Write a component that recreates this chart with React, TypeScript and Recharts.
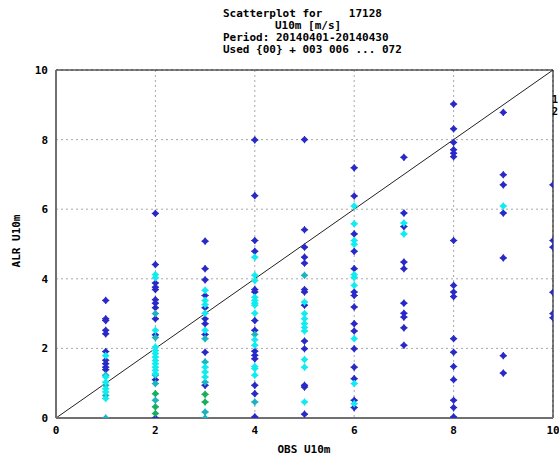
import React from "react";
import {
  ScatterChart,
  Scatter,
  XAxis,
  YAxis,
  CartesianGrid,
  ReferenceLine,
  ReferenceArea,
  Customized,
} from "recharts";

// ---- data (OBS U10m, ALR U10m) grouped by marker colour ----
const darkPoints: [number, number][] = [
  [1, 3.38], [1, 2.85], [1, 2.8], [1, 2.52], [1, 2.42], [1, 1.91], [1, 1.66], [1, 1.56], [1, 1.46], [1, 1.39],
  [2, 5.88], [2, 4.41], [2, 3.88], [2, 3.76], [2, 3.69], [2, 3.4], [2, 3.3], [2, 3.17], [2, 2.85], [2, 2.39], [2, 1.1], [2, 0],
  [3, 5.08], [3, 4.29], [3, 3.97], [3, 3.52], [3, 3.17], [3, 2.85], [3, 2.71], [3, 2.4], [3, 1.89], [3, 0.94],
  [4, 7.99], [4, 6.39], [4, 5.1], [4, 4.79], [4, 3.69], [4, 3.62], [4, 2.8], [4, 2.52], [4, 1.92], [4, 1.8], [4, 1.7], [4, 0.94], [4, 0.7], [4, 0.03],
  [5, 8.0], [5, 5.41], [5, 4.91], [5, 4.62], [5, 4.45], [5, 3.69], [5, 3.62], [5, 3.24], [5, 2.21], [5, 1.99], [5, 0.94], [5, 0.89], [5, 0.11],
  [6, 7.19], [6, 6.38], [6, 5.29], [6, 4.79], [6, 4.29], [6, 3.62], [6, 3.52], [6, 3.19], [6, 2.71], [6, 2.5], [6, 1.99], [6, 1.46], [6, 1.13], [6, 0.51], [6, 0.3],
  [7, 7.49], [7, 5.89], [7, 5.5], [7, 4.48], [7, 4.29], [7, 3.3], [7, 3.01], [7, 2.9], [7, 2.59], [7, 2.09],
  [8, 9.02], [8, 8.31], [8, 7.92], [8, 7.71], [8, 7.61], [8, 7.51], [8, 5.1], [8, 3.81], [8, 3.62], [8, 3.49], [8, 2.28], [8, 1.89], [8, 1.48], [8, 1.1], [8, 0.51], [8, 0.3], [8, 0.03],
  [9, 8.78], [9, 6.99], [9, 6.7], [9, 5.89], [9, 4.6], [9, 1.79], [9, 1.29],
  [10, 6.7], [10, 5.1], [10, 4.91], [10, 3.61], [10, 3.0], [10, 2.88],
];

const cyanPoints: [number, number][] = [
  [1, 1.79], [1, 1.18], [1, 1.03], [1, 0.84], [1, 0.75], [1, 0.56],
  [2, 4.12], [2, 4.03], [2, 2.52], [2, 2.04], [2, 1.94], [2, 1.85], [2, 1.75], [2, 1.65], [2, 1.56], [2, 1.46], [2, 1.37], [2, 1.27],
  [3, 3.67], [3, 3.38], [3, 3.26], [3, 3.01], [3, 2.52], [3, 1.46], [3, 1.32], [3, 1.18],
  [4, 4.62], [4, 4.1], [4, 3.95], [4, 3.47], [4, 3.38], [4, 3.3], [4, 3.24], [4, 3.01], [4, 2.25], [4, 2.09], [4, 1.48], [4, 1.42], [4, 1.23],
  [5, 3.33], [5, 3.0], [5, 2.85], [5, 2.71], [5, 2.6], [5, 2.5], [5, 1.68], [5, 1.46], [5, 0.46],
  [6, 6.09], [6, 5.58], [6, 5.1], [6, 4.99], [6, 4.12], [6, 4.04], [6, 3.81], [6, 2.28], [6, 0.99], [6, 0.41],
  [7, 5.6], [7, 5.29],
  [9, 6.09],
];

const tealPoints: [number, number][] = [
  [1, 1.23], [1, 0.94], [1, 0.65], [1, 0],
  [2, 3.0], [2, 2.31], [2, 1.23], [2, 0.99], [2, 0.51],
  [3, 2.28], [3, 1.61], [3, 1.03], [3, 0.17], [3, 0],
  [4, 2.4], [4, 0.46],
  [5, 4.1],
];

const greenPoints: [number, number][] = [
  [2, 0.7], [2, 0.32], [2, 0.13],
  [3, 0.68], [3, 0.46],
];

const axisTicks = [0, 2, 4, 6, 8, 10];
const titleLines = [
  "Scatterplot for    17128",
  "U10m [m/s]",
  "Period: 20140401-20140430",
  "Used {00} + 003 006 ... 072",
];
const xLabel = "OBS U10m";
const yLabel = "ALR U10m";
const legendKeys = ["1", "2"];

const toRows = (pts: [number, number][]) => pts.map(([x, y]) => ({ x, y }));

const FONT = "'DejaVu Sans Mono', monospace";

const makeShape = (color: string) => (props: any) => {
  const { cx, cy } = props;
  if (cx == null || cy == null) return null;
  const r = 3.6;
  return (
    <g>
      <path
        d={`M${cx},${cy - r}L${cx + r},${cy}L${cx},${cy + r}L${cx - r},${cy}Z`}
        fill={color}
      />
      <path
        d={`M${cx - r},${cy}L${cx + r},${cy}M${cx},${cy - r}L${cx},${cy + r}`}
        stroke={color}
        strokeWidth={1}
      />
    </g>
  );
};

const pre = { whiteSpace: "pre" as const };

const Texts = () => (
  <g fontFamily={FONT} fontWeight="bold" fontSize={11} fill="#000">
    <text x={223} y={17} style={pre} xmlSpace="preserve">{titleLines[0]}</text>
    <text x={275} y={29} style={pre}>{titleLines[1]}</text>
    <text x={223} y={41} style={pre}>{titleLines[2]}</text>
    <text x={223} y={53} style={pre}>{titleLines[3]}</text>
    <text x={304} y={453} textAnchor="middle">{xLabel}</text>
    <text
      x={19.5}
      y={241}
      textAnchor="middle"
      transform="rotate(-90 19.5 241)"
    >
      {yLabel}
    </text>
    <text x={552} y={103} fontSize={10}>{legendKeys[0]}</text>
    <text x={552} y={115} fontSize={10}>{legendKeys[1]}</text>
  </g>
);

const tickStyle = { fontFamily: FONT, fontWeight: "bold", fontSize: 11, fill: "#000" };

export default function App() {
  return (
    <div style={{ position: "absolute", left: 0, top: 0, background: "#fff" }}>
      <ScatterChart
        width={559}
        height={458}
        margin={{ top: 70, right: 6, bottom: 10, left: 0 }}
      >
        <CartesianGrid stroke="#a8a8a8" strokeDasharray="2 3" />
        <XAxis
          type="number"
          dataKey="x"
          domain={[0, 10]}
          ticks={axisTicks}
          allowDataOverflow
          height={30}
          tick={tickStyle}
          tickLine={false}
          axisLine={{ stroke: "#707070", strokeWidth: 2 }}
        />
        <YAxis
          type="number"
          dataKey="y"
          domain={[0, 10]}
          ticks={axisTicks}
          allowDataOverflow
          width={56}
          tick={tickStyle}
          tickLine={false}
          axisLine={{ stroke: "#707070", strokeWidth: 2 }}
        />
        <ReferenceArea
          x1={0}
          x2={10}
          y1={0}
          y2={10}
          fill="none"
          stroke="#000"
          strokeWidth={1}
        />
        <ReferenceLine
          segment={[
            { x: 0, y: 0 },
            { x: 10, y: 10 },
          ]}
          stroke="#222"
          strokeWidth={1}
        />
        <Scatter data={toRows(darkPoints)} shape={makeShape("#2a2ac8")} isAnimationActive={false} />
        <Scatter data={toRows(tealPoints)} shape={makeShape("#1cb4c0")} isAnimationActive={false} />
        <Scatter data={toRows(cyanPoints)} shape={makeShape("#10ecf0")} isAnimationActive={false} />
        <Scatter data={toRows(greenPoints)} shape={makeShape("#18b060")} isAnimationActive={false} />
        <Customized component={Texts} />
      </ScatterChart>
    </div>
  );
}
